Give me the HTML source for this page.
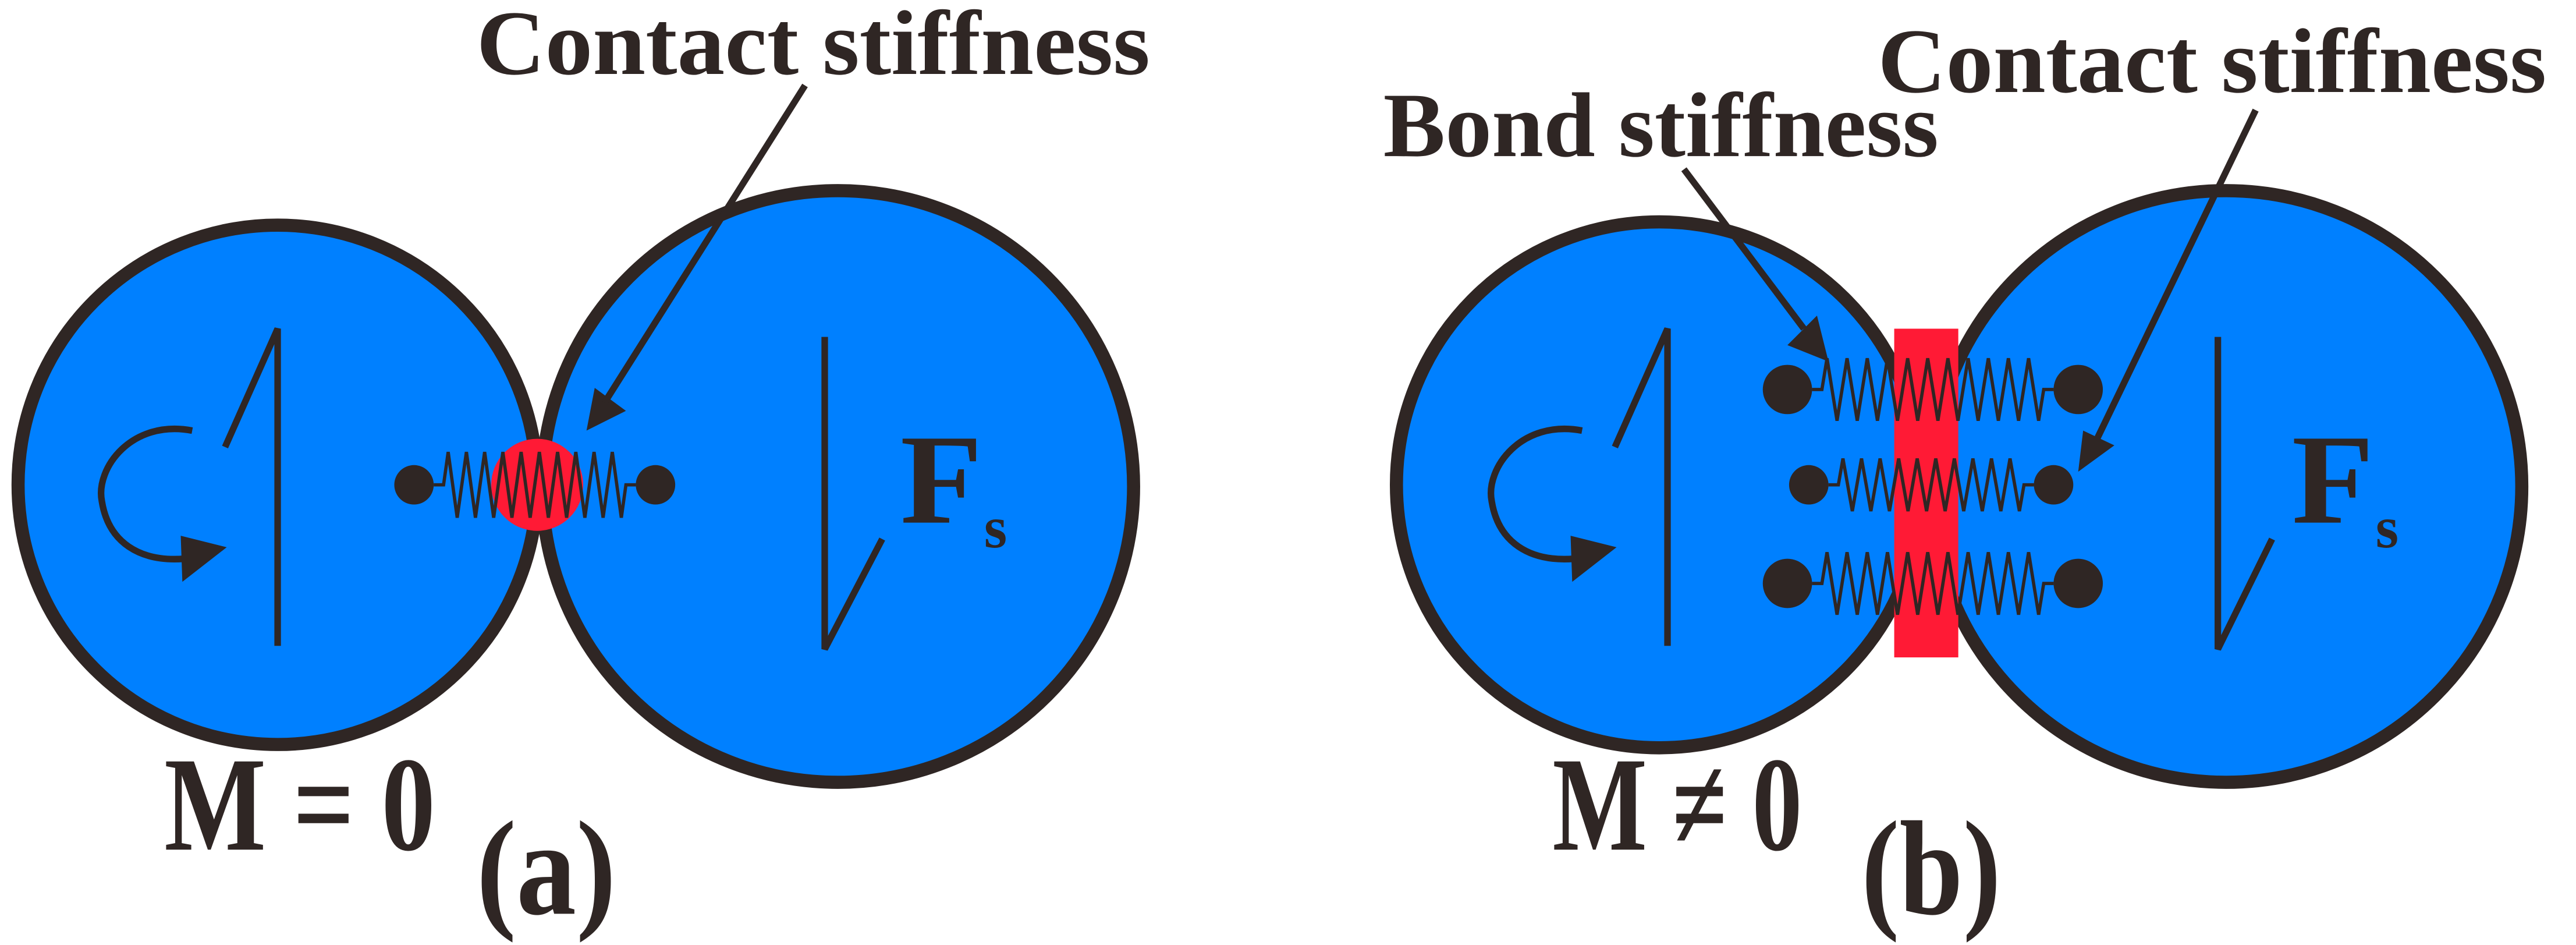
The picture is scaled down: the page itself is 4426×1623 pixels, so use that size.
<!DOCTYPE html>
<html><head><meta charset="utf-8"><style>
html,body{margin:0;padding:0;background:#fff;}
svg{display:block;}
text{font-family:"Liberation Serif",serif;font-weight:bold;fill:#2f2624;}
</style></head><body>
<svg id="s" width="4426" height="1623" viewBox="0 0 1568 575" preserveAspectRatio="none" xmlns="http://www.w3.org/2000/svg">
<g stroke="#2f2624" stroke-width="8" fill="#0080ff">
<circle cx="169" cy="295" r="158"/>
<circle cx="510" cy="296" r="180"/>
<circle cx="1010" cy="295" r="160"/>
<circle cx="1355" cy="296" r="180"/>
</g>
<circle cx="327" cy="295" r="28" fill="#ff1a35"/>
<rect x="1153" y="200" width="39" height="200" fill="#ff1a35"/>
<g id="springs" stroke="#2f2624" stroke-width="2" fill="none"></g>
<g fill="#2f2624">
<circle cx="252" cy="295" r="12"/><circle cx="399" cy="295" r="12"/>
<circle cx="1088" cy="237" r="15"/><circle cx="1265" cy="237" r="15"/>
<circle cx="1101" cy="295" r="12"/><circle cx="1250" cy="295" r="12"/>
<circle cx="1088" cy="355" r="15"/><circle cx="1265" cy="355" r="15"/>
</g>
<g stroke="#2f2624" stroke-width="4" fill="none">
<path d="M169,393 V200 L137,272"/>
<path d="M502,205 V395 L537,328"/>
<path d="M1015,393 V200 L983,272"/>
<path d="M1350,205 V395 L1383,328"/>
<path d="M117,262 C80,255 58,285 62,305 C66,330 85,342 112,340"/>
<path d="M963,262 C926,255 904,285 908,305 C912,330 931,342 958,340"/>
</g>
<g fill="#2f2624">
<path d="M110,326 L138,333 L111,354z"/>
<path d="M956,326 L984,333 L957,354z"/>
<path d="M357,262 L362,236 L381,250z"/>
<path d="M1113,220 L1088,210 L1106,192z"/>
<path d="M1265,287 L1268,262 L1287,271z"/>
</g>
<g stroke="#2f2624" stroke-width="4">
<line x1="490" y1="52" x2="368" y2="245"/>
<line x1="1025" y1="103" x2="1098" y2="200"/>
<line x1="1373" y1="67" x2="1276" y2="268"/>
</g>
<text x="290" y="45" font-size="56" textLength="410" lengthAdjust="spacingAndGlyphs">Contact stiffness</text>
<text x="842" y="95" font-size="56" textLength="338" lengthAdjust="spacingAndGlyphs">Bond stiffness</text>
<text x="1143" y="56" font-size="56" textLength="407" lengthAdjust="spacingAndGlyphs">Contact stiffness</text>
<text x="548" y="318" font-size="78" textLength="50" lengthAdjust="spacingAndGlyphs">F</text>
<text x="599" y="333" font-size="36">s</text>
<text x="1395" y="318" font-size="78" textLength="50" lengthAdjust="spacingAndGlyphs">F</text>
<text x="1446" y="333" font-size="36">s</text>
<text x="100" y="517" font-size="82" textLength="165" lengthAdjust="spacingAndGlyphs">M = 0</text>
<text x="945" y="517" font-size="82" textLength="152" lengthAdjust="spacingAndGlyphs">M ≠ 0</text>
<text x="290" y="556" font-size="82" textLength="85" lengthAdjust="spacingAndGlyphs">(a)</text>
<text x="1133" y="556" font-size="82" textLength="85" lengthAdjust="spacingAndGlyphs">(b)</text>
</svg>
<script>
(function(){
var g=document.getElementById('springs');
function spring(x1,x2,y,n,a){
 var d='M'+x1+','+y+' L'+(x1+6)+','+y;
 var s=x1+6,e=x2-6,step=(e-s)/(n*2);
 for(var i=0;i<n*2;i++){d+=' L'+(s+step*(i+0.5)).toFixed(1)+','+(y+(i%2?a:-a));}
 d+=' L'+e+','+y+' L'+x2+','+y;
 var p=document.createElementNS('http://www.w3.org/2000/svg','path');
 p.setAttribute('d',d);g.appendChild(p);
}
spring(264,387,295,10,20);
spring(1103,1250,237,11,19);
spring(1113,1238,295,10,16);
spring(1103,1250,355,11,19);
})();
</script>
</body></html>
